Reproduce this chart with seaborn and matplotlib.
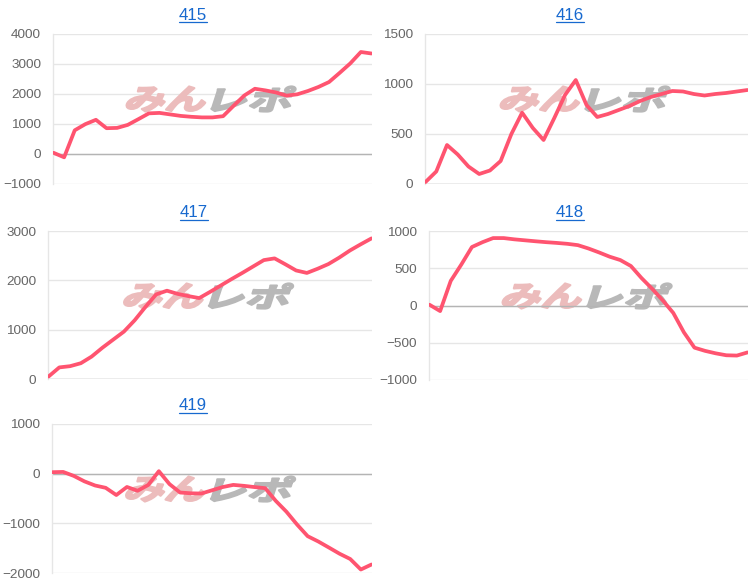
"""
収支推移グラフ (415〜419) の再現
"""

import numpy as np
import pandas as pd
import matplotlib
matplotlib.use("Agg")
import matplotlib.pyplot as plt
import seaborn as sns
from matplotlib.textpath import TextPath
from matplotlib.patches import PathPatch
from matplotlib.lines import Line2D
from matplotlib.transforms import Affine2D, IdentityTransform
from matplotlib.font_manager import FontProperties

# ---- データ ----
titles = ["415", "416", "417", "418", "419"]

s415 = [40, -110, 790, 995, 1140, 860, 870, 970, 1160, 1355, 1370, 1320, 1270, 1240, 1220, 1220,
        1260, 1610, 1950, 2175, 2120, 2050, 1945, 1990, 2100, 2235, 2400, 2705, 3020, 3400, 3350]
s416 = [20, 125, 390, 295, 175, 100, 135, 230, 500, 713, 560, 440, 660, 890, 1040, 790,
        670, 700, 740, 780, 830, 870, 900, 930, 925, 900, 885, 900, 910, 925, 940]
s417 = [50, 235, 260, 320, 454, 633, 797, 960, 1190, 1460, 1715, 1790, 1725, 1680, 1640, 1765,
        1895, 2025, 2150, 2280, 2410, 2445, 2325, 2200, 2150, 2235, 2330, 2460, 2605, 2730, 2850]
s418 = [10, -75, 330, 550, 785, 850, 905, 905, 888, 875, 862, 850, 840, 828, 810, 765,
        712, 655, 610, 530, 369, 225, 70, -100, -360, -566, -609, -642, -668, -672, -630]
s419 = [30, 35, -45, -155, -238, -285, -430, -268, -344, -228, 50, -210, -380, -395, -400, -335,
        -270, -226, -245, -270, -292, -548, -766, -1024, -1259, -1366, -1488, -1612, -1718, -1930, -1829]
series = [s415, s416, s417, s418, s419]

ylims = [(-1000, 4000), (0, 1500), (0, 3000), (-1000, 1000), (-2000, 1000)]
yticks = [[-1000, 0, 1000, 2000, 3000, 4000],
          [0, 500, 1000, 1500],
          [0, 1000, 2000, 3000],
          [-1000, -500, 0, 500, 1000],
          [-2000, -1000, 0, 1000]]

# ---- 配置（ピクセル: left, top, right, bottom / タイトル中心x, ベースラインy） ----
W, H = 750, 585
boxes = [(53, 34, 372, 184), (425, 34, 748, 184), (48, 231, 372, 379),
         (429, 231, 748, 380), (52, 424, 372, 573)]
title_pos = [(193, 19.5), (570, 19.5), (194, 217.3), (570, 217.3), (193, 410)]

LINE_COLOR = "#ff5470"
GRID_COLOR = "#e6e6e6"
ZERO_COLOR = "#b4b4b4"
TITLE_COLOR = "#1769cf"

sns.set_style("white")
plt.rcParams["font.family"] = ["Liberation Sans", "DejaVu Sans"]
plt.rcParams["axes.unicode_minus"] = True

fig = plt.figure(figsize=(W / 100, H / 100), dpi=100)

wm_prop = FontProperties(family="Noto Sans CJK JP", weight="bold")


def add_watermark(ax, cx, cy):
    """みんレポ 風のロゴ（斜体テキスト）を描画 (cx, cy: 上からのピクセル座標)"""
    parts = [("みん", "#ecbcbc"), ("レポ", "#b8b8b8")]
    w_part, h_part, skew = 86, 25, 18
    x_left = cx - w_part
    for txt, col in parts:
        tp = TextPath((0, 0), txt, size=1, prop=wm_prop)
        ext = tp.get_extents()
        slant = np.tan(np.radians(skew)) * h_part
        tr = (Affine2D()
              .translate(-ext.x0, -ext.y0)
              .scale((w_part - slant) / ext.width, h_part / ext.height)
              .skew_deg(skew, 0)
              .translate(x_left, H - (cy + h_part / 2)))
        # 太めに見せるため同色の縁取りを付ける
        patch = PathPatch(tr.transform_path(tp), facecolor=col, edgecolor=col,
                          linewidth=1.6, joinstyle="round",
                          transform=IdentityTransform(), zorder=1)
        ax.add_artist(patch)
        x_left += w_part


for i in range(5):
    l, t, r, b = boxes[i]
    ax = fig.add_axes([l / W, 1 - b / H, (r - l) / W, (b - t) / H])
    df = pd.DataFrame({"idx": np.arange(len(series[i])), "value": series[i]})
    sns.lineplot(data=df, x="idx", y="value", ax=ax, color=LINE_COLOR,
                 linewidth=2.7, zorder=3)

    ax.set_xlim(-0.05, len(series[i]) - 0.95)
    ax.set_ylim(*ylims[i])
    ax.set_yticks(yticks[i])
    ax.set_xticks([])
    ax.set_xlabel("")
    ax.set_ylabel("")
    ax.set_axisbelow(True)
    ax.yaxis.grid(True, color=GRID_COLOR, linewidth=1.0)
    ax.axhline(0, color=ZERO_COLOR, linewidth=1.0, zorder=1.5)
    for side in ["top", "right", "bottom"]:
        ax.spines[side].set_visible(False)
    ax.spines["left"].set_color(GRID_COLOR)
    ax.spines["left"].set_linewidth(1.0)
    ax.tick_params(axis="y", length=5.5, width=0.8, color=GRID_COLOR, pad=3,
                   labelsize=9.7, labelcolor="#666666")
    ax.patch.set_alpha(0)

    add_watermark(ax, (l + r) / 2 - 2, t + 65)

# タイトル（下線付きリンク風）
renderer = fig.canvas.get_renderer()
for name, (tx, ty) in zip(titles, title_pos):
    txt = fig.text(tx / W, 1 - ty / H, name, ha="center", va="baseline",
                   fontsize=12.2, color=TITLE_COLOR)
    bb = txt.get_window_extent(renderer)
    y_ul = H - ty - 2.6
    fig.add_artist(Line2D([bb.x0, bb.x1], [y_ul, y_ul], transform=IdentityTransform(),
                          color=TITLE_COLOR, linewidth=0.9))

plt.savefig("out.png", dpi=100)
plt.close()
